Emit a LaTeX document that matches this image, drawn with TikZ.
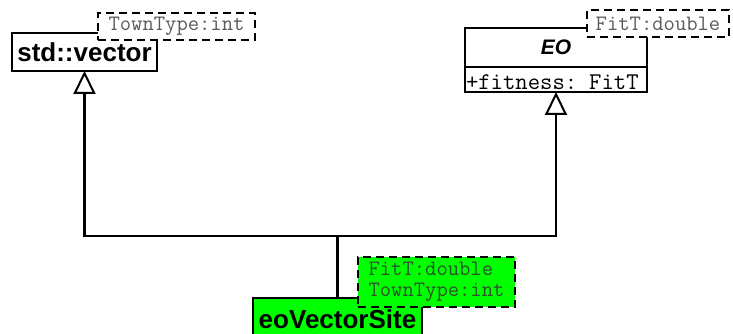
\documentclass[tikz,border=0pt]{standalone}
\usepackage{fontspec}
\setmainfont{Liberation Sans}
\usetikzlibrary{positioning, arrows.meta}
\definecolor{site}{HTML}{00FF00}
\definecolor{tmpltxt}{HTML}{5a5a5a}
\definecolor{sitetxt}{HTML}{2f4f2f}

\begin{document}
\begin{tikzpicture}[x=1pt, y=1pt,
  cls/.style={draw, line width=2.2pt, fill=white, outer sep=0pt, inner sep=0pt, font=\fontsize{26}{28}\selectfont\bfseries},
  tmpl/.style={draw, line width=2.2pt, dash pattern=on 8pt off 5pt, fill=white, outer sep=0pt, inner sep=0pt, align=left, text=tmpltxt, font=\ttfamily\fontsize{22}{21}\selectfont},
  inh/.style={-{Triangle[open, length=23pt, width=22pt, line width=2pt]}, line width=2.2pt}
]
  \useasboundingbox (0,0) rectangle (733,334);

  % parent classes
  \node[cls, minimum width=145, minimum height=38] (vec) at (84.5,282) {std::vector};
  \node[tmpl, minimum width=157, minimum height=27] (vecT) at (176.5,307.5) {TownType:int};

  \node[cls, minimum width=182, minimum height=39, font=\fontsize{21}{22}\selectfont\bfseries\itshape] (eo) at (556,286.5) {EO};
  \node[cls, minimum width=182, minimum height=25, anchor=north, font=\ttfamily\fontsize{24}{24}\selectfont,
        text width=180pt, align=left, text height=21pt, text depth=0pt] (eof) at (eo.south) {+fitness: FitT};
  \node[tmpl, minimum width=142, minimum height=27, anchor=west] (eoT) at (587,310.5) {FitT:double};

  % subclass
  \node[cls, fill=site, minimum width=169, minimum height=42, anchor=north] (site) at (337.5,36) {eoVectorSite};
  \node[tmpl, fill=site, text=sitetxt, minimum width=157, minimum height=50] (siteT) at (436.5,52) {FitT:double\\TownType:int};

  \coordinate (j) at (337.5,98);
  \draw[line width=2.2pt] (site.north) -- (j);
  \foreach \p in {vec, eof} \draw[inh] (j) -| (\p.south);
\end{tikzpicture}
\end{document}
